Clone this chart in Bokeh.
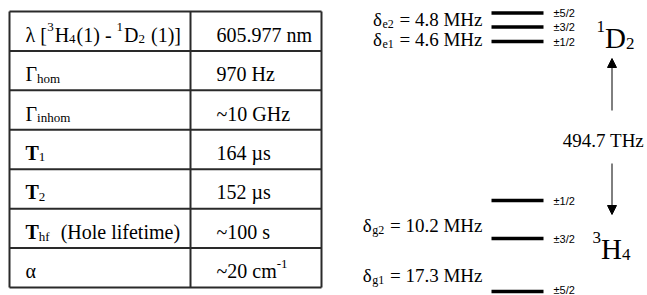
from bokeh.plotting import figure
from bokeh.models import Range1d, Arrow, NormalHead
from bokeh.embed import file_html
from bokeh.resources import INLINE
from bokeh.core.properties import value

# ---------------- data ----------------
# table: parameter (rich-text pieces) and value
param_labels = [
    [("λ [", "n"), ("3", "sup"), ("H", "n"), ("4", "sub"), ("(1) - ", "n"),
     ("1", "sup"), ("D", "n"), ("2", "sub"), (" (1)]", "n")],
    [("Γ", "n"), ("hom", "sub")],
    [("Γ", "n"), ("inhom", "sub")],
    [("T", "b"), ("1", "sub")],
    [("T", "b"), ("2", "sub")],
    [("T", "b"), ("hf", "sub"), ("  (Hole lifetime)", "n")],
    [("α", "n")],
]
param_values = [
    [("605.977 nm", "n")],
    [("970 Hz", "n")],
    [("~10 GHz", "n")],
    [("164 µs", "n")],
    [("152 µs", "n")],
    [("~100 s", "n")],
    [("~20 cm", "n"), ("-1", "sup")],
]

# energy level diagram (schematic vertical positions, diagram units)
upper_state = [("1", "sup"), ("D", "n"), ("2", "sub")]
upper_sublevels = ["±5/2", "±3/2", "±1/2"]
upper_level_pos = [12.5, 26.5, 41]
upper_split_names = ["e2", "e1"]
upper_split_values = ["4.8 MHz", "4.6 MHz"]

lower_state = [("3", "sup"), ("H", "n"), ("4", "sub")]
lower_sublevels = ["±1/2", "±3/2", "±5/2"]
lower_level_pos = [200, 238, 291]
lower_split_names = ["g2", "g1"]
lower_split_values = ["10.2 MHz", "17.3 MHz"]

transition_label = "494.7 THz"

# ---------------- helpers ----------------
SERIF = "Liberation Serif"
W = {' ': .25, '.': .25, '(': .333, ')': .333, '[': .333, ']': .333, '-': .333,
     'H': .722, 'D': .722, 'T': .611, 'G': .722, 'M': .889, 'z': .444, 'n': .5,
     'm': .778, 's': .389, 'c': .444, '~': .541, 'h': .5, 'o': .5, 'i': .278,
     'f': .333, 'l': .278, 'e': .444, 't': .278, 'g': .5, '=': .564,
     'λ': .5, 'Γ': .578, 'δ': .5, 'α': .55, 'µ': .5}
WB = {'T': .667, 'h': .556, 'f': .333}


def tw(s, size, bold=False):
    tot = 0
    for ch in s:
        if bold and ch in WB:
            tot += WB[ch]
        else:
            tot += W.get(ch, .5)
    return tot * size


p = figure(width=647, height=295, x_range=Range1d(0, 647), y_range=Range1d(295, 0),
           output_backend="svg", toolbar_location=None, min_border=0,
           background_fill_color="white", border_fill_color="white")
p.axis.visible = False
p.grid.visible = False
p.outline_line_color = None


def rich(x, y, pieces, size, font=SERIF, small=12, gap=1.0):
    for txt, kind in pieces:
        if kind in ("sub", "sup"):
            s = small
            yy = y + 0.22 * size if kind == "sub" else y - 0.38 * size
            bold = False
        else:
            s = size
            yy = y
            bold = kind == "b"
        # SVG collapses leading/trailing blanks: advance for them explicitly
        lead = len(txt) - len(txt.lstrip(" "))
        x += tw(" " * lead, s)
        core = txt.strip(" ")
        trail = len(txt) - lead - len(core)
        if core:
            p.text(x=[x], y=[yy], text=[core], text_font=value(font),
                   text_font_size=f"{int(s)}px", text_baseline="alphabetic",
                   text_align="left", text_color="black",
                   text_font_style="bold" if bold else "normal")
        x += tw(core, s, bold) + tw(" " * trail, s)
        x += gap if kind in ("sub", "sup") else 0
    return x


# ---------------- table ----------------
n = len(param_labels)
top, bottom = 11, 287
left, mid, right = 9, 190, 321
rh = (bottom - top) / n
line_col = "#2a2a2a"
ys = [top + i * rh for i in range(n + 1)]
p.segment(x0=[left] * (n + 1), x1=[right] * (n + 1), y0=ys, y1=ys,
          line_color=line_col, line_width=2)
p.segment(x0=[left, mid, right], x1=[left, mid, right], y0=[top] * 3, y1=[bottom] * 3,
          line_color=line_col, line_width=2)

FS = 20
for i in range(n):
    base = top + (i + 0.5) * rh + 3.5
    rich(25, base, param_labels[i], FS, small=13)
    rich(216, base, param_values[i], FS, small=13)

# ---------------- level diagram ----------------
bar_x0, bar_x1 = 491, 543
for pos, labs, shift in ((upper_level_pos, upper_sublevels, [0, 0, 0]),
                         (lower_level_pos, lower_sublevels, [0, 0, -2])):
    p.segment(x0=[bar_x0] * len(pos), x1=[bar_x1] * len(pos), y0=pos, y1=pos,
              line_color="black", line_width=3.6, line_cap="butt")
    p.text(x=[553] * len(pos), y=pos, text=labs, y_offset=shift,
           text_font=value("Liberation Sans"),
           text_font_size="11px", text_baseline="middle", text_align="left",
           text_color="black")

# splitting labels (right aligned at x=482)
DS = 19
split_sets = [
    (upper_split_names, upper_split_values, [19, 39]),
    (lower_split_names, lower_split_values, [225, 275]),
]
for names, vals, bases in split_sets:
    for nm, v, b in zip(names, vals, bases):
        main = " = " + v
        total = tw("δ", DS) + tw(nm, 12) + 1 + tw(main, DS)
        rich(482 - total, b, [("δ", "n"), (nm, "sub"), (main, "n")], DS, small=12, gap=1)

# state labels
SS = 29
rich(596, 37, upper_state, SS, small=17, gap=0)
rich(592, 248, lower_state, SS, small=17, gap=0)

# transition arrows
ax = 611.5
p.add_layout(Arrow(end=NormalHead(size=9, fill_color="black", line_color="black"),
                   x_start=ax, y_start=110, x_end=ax, y_end=58,
                   line_color="black", line_width=1))
p.add_layout(Arrow(end=NormalHead(size=9, fill_color="black", line_color="black"),
                   x_start=ax, y_start=163, x_end=ax, y_end=214,
                   line_color="black", line_width=1))
p.text(x=[603], y=[140], text=[transition_label], text_font=value(SERIF),
       text_font_size="19px", text_baseline="alphabetic", text_align="center",
       text_color="black")

open("out.html", "w").write(file_html(p, INLINE))
